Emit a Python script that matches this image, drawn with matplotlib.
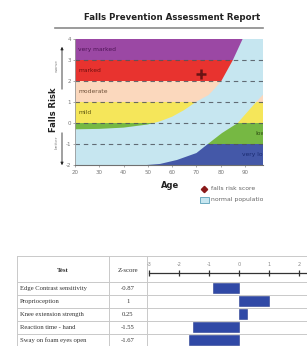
import numpy as np
import matplotlib
matplotlib.use('Agg')
import matplotlib.pyplot as plt
from matplotlib.patches import Rectangle

# Risk bands (y ranges) and their colours
band_edges = [-2, -1, 0, 1, 2, 3, 4]
band_colors = ['#4458a8', '#76b843', '#f5e65a', '#fbd8bd', '#e8332f', '#9b48a4']

# Normal population band
upper_age = [20, 30, 40, 50, 55, 60, 65, 70, 75, 80, 85, 89, 97.4]
upper_val = [-0.3, -0.28, -0.22, -0.07, 0.08, 0.3, 0.62, 1.02, 1.33, 1.95, 3.0, 4.0, 4.0]
lower_age = [20, 49.6, 55, 62, 70, 74.7, 80.5, 87, 90, 94.6, 97.4]
lower_val = [-2.0, -2.0, -1.95, -1.76, -1.43, -1.0, -0.48, 0.0, 0.4, 1.0, 1.35]

score_age = 72
score_val = 2.33

# Table data
tests = ['Edge Contrast sensitivity', 'Proprioception', 'Knee extension strength',
         'Reaction time - hand', 'Sway on foam eyes open']
zscores = [-0.87, 1, 0.25, -1.55, -1.67]
zlabels = ['-0.87', '1', '0.25', '-1.55', '-1.67']
zticks = [-3, -2, -1, 0, 1, 2]

plt.rcParams['axes.unicode_minus'] = False

W, H = 307, 346
fig = plt.figure(figsize=(W / 100, H / 100), dpi=100)


def box(x0, y0, x1, y1):
    return [x0 / W, 1 - y1 / H, (x1 - x0) / W, (y1 - y0) / H]


# ---- top chart
ax = fig.add_axes(box(75, 39, 263, 165))
xmin, xmax = 20, 97.4
for lo, hi, c in zip(band_edges[:-1], band_edges[1:], band_colors):
    ax.fill_between([xmin, xmax], lo, hi, color=c, lw=0)
poly_x = np.concatenate([upper_age, lower_age[::-1]])
poly_y = np.concatenate([upper_val, lower_val[::-1]])
ax.fill(poly_x, poly_y, color='#c6e6f0', lw=0)
for y in band_edges[1:-1]:
    ax.axhline(y, color='#50565e', lw=0.8, dashes=(4, 3.5), alpha=0.85)
ax.plot(score_age, score_val, marker='+', ms=7, mew=1.8, color='#681414')

lab_kw = dict(fontsize=4.3, va='center', ha='left')
ax.text(21.3, 3.5, 'very marked', color='#4e1456', **lab_kw)
ax.text(21.3, 2.5, 'marked', color='#6e1010', **lab_kw)
ax.text(21.3, 1.5, 'moderate', color='#6e5038', **lab_kw)
ax.text(21.3, 0.5, 'mild', color='#5e5610', **lab_kw)
ax.text(94.3, -0.5, 'low', color='#2c4a12', clip_on=True, **lab_kw)
ax.text(88.7, -1.5, 'very low', color='#1a2a70', clip_on=True, **lab_kw)

ax.set_xlim(xmin, xmax)
ax.set_ylim(-2, 4)
ax.set_xticks(range(20, 100, 10))
ax.set_yticks(range(-2, 5))
ax.tick_params(labelsize=4.0, labelcolor='#777777', color='#888888', length=1.2,
               width=0.5, pad=1.5)
ax.tick_params(axis='x', pad=2.5)
for s in ['top', 'right']:
    ax.spines[s].set_visible(False)
ax.spines['left'].set_color('#9a9a9a')
ax.spines['bottom'].set_color('#707070')
ax.spines['left'].set_linewidth(0.6)
ax.spines['bottom'].set_linewidth(0.8)

# ---- overlay in pixel coordinates for titles and the table grid
ov = fig.add_axes([0, 0, 1, 1], zorder=-1)
ov.set_xlim(0, W)
ov.set_ylim(H, 0)
ov.axis('off')

ov.text(172, 17, 'Falls Prevention Assessment Report', fontsize=6.2,
        fontweight='bold', ha='center', va='center', color='#222222')
ov.plot([55, 263], [28, 28], color='#8a8a8a', lw=1.2)
ov.text(54, 110, 'Falls Risk', fontsize=6.0, fontweight='bold', rotation=90,
        ha='center', va='center', color='#222222')
ov.text(56.5, 65, 'worse', fontsize=3.2, rotation=90, ha='center', va='center',
        color='#888888')
ov.text(56.5, 142, 'better', fontsize=3.2, rotation=90, ha='center', va='center',
        color='#888888')
ov.annotate('', xy=(62, 44), xytext=(62, 92),
            arrowprops=dict(arrowstyle='-|>', color='#222222', lw=0.6, mutation_scale=4))
ov.annotate('', xy=(62, 168), xytext=(62, 130),
            arrowprops=dict(arrowstyle='-|>', color='#222222', lw=0.6, mutation_scale=4))
ov.text(170, 185, 'Age', fontsize=6.0, fontweight='bold', ha='center', va='center',
        color='#222222')

# legend, clipped at the right like the chart
lg = fig.add_axes(box(195, 180, 263, 208))
lg.set_xlim(195, 263)
lg.set_ylim(208, 180)
lg.axis('off')
lg.plot(204.5, 189, marker='D', ms=3.2, color='#8a1a1a')
lg.text(211, 189, 'falls risk score', fontsize=4.4, color='#666666', va='center',
        clip_on=True)
lg.add_patch(Rectangle((200.5, 196.5), 9, 6.5, facecolor='#c6e6f0', edgecolor='#5aa0b8',
                       lw=0.6))
lg.text(211, 200, 'normal population', fontsize=4.4, color='#666666', va='center',
        clip_on=True)

# ---- table
row_h = 13.05
head_top, head_bot = 256, 281.5
row_lines = [head_top, head_bot] + [head_bot + row_h * (i + 1) for i in range(len(tests))]
grid = '#c9c9c9'
for y in row_lines:
    ov.plot([17, W], [y, y], color=grid, lw=0.7)
for x in [17, 109, 147]:
    ov.plot([x, x], [head_top, H + 5], color=grid, lw=0.7)

serif = 'Liberation Serif'
ov.text(63, 270, 'Test', fontsize=4.9, family=serif, fontweight='bold', ha='center',
        va='center', color='#333333')
ov.text(128, 270, 'Z-score', fontsize=4.9, family=serif, ha='center', va='center',
        color='#333333')
for i, (t, z) in enumerate(zip(tests, zlabels)):
    yc = head_bot + row_h * (i + 0.5)
    ov.text(20, yc, t, fontsize=4.8, family=serif, ha='left', va='center', color='#333333')
    ov.text(128, yc, z, fontsize=4.8, family=serif, ha='center', va='center',
            color='#333333')

# z-score scale in the header
x0_px, unit_px = 239, 30.0
zmin = (147 - x0_px) / unit_px
zmax = (W - x0_px) / unit_px
sc = fig.add_axes(box(147, head_top, W, head_bot))
sc.set_xlim(zmin, zmax)
sc.set_ylim(1, 0)
sc.axis('off')
sc.plot([-3, zmax], [0.66, 0.66], color='#333333', lw=0.9)
sc.plot(zticks, [0.66] * len(zticks), ls='none', marker='|', ms=4, mew=0.9,
        color='#333333')
for z in zticks:
    sc.text(z, 0.32, str(z), fontsize=3.6, color='#888888', ha='center', va='center')

# bars
br = fig.add_axes(box(147, head_bot, W, head_bot + row_h * len(tests)))
br.barh(range(len(tests)), zscores, height=0.78, color='#3049a6', edgecolor='#2a3f90',
        lw=0.4)
br.set_xlim(zmin, zmax)
br.set_ylim(len(tests) - 0.5, -0.5)
br.axis('off')

fig.savefig('out.png', dpi=100)
